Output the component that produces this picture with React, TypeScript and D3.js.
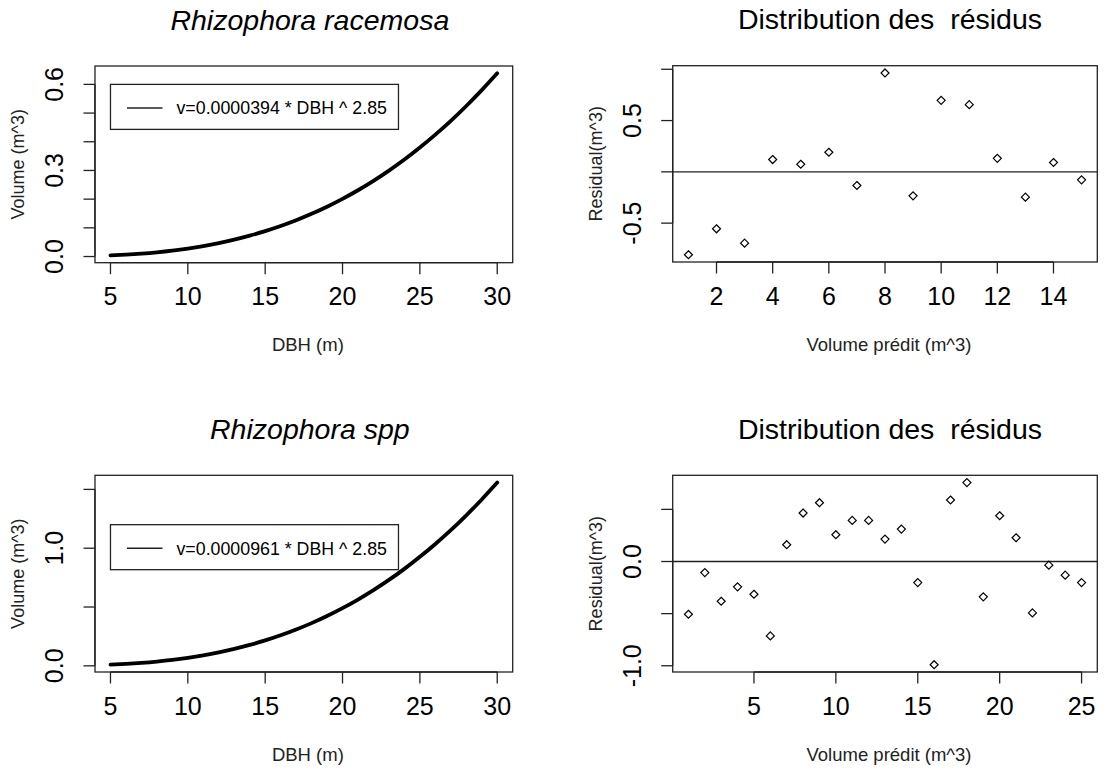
import React from "react";
import * as d3 from "d3";

// ---- data ----
const DBH = [5, 6, 7, 8, 9, 10, 11, 12, 13, 14, 15, 16, 17, 18, 19, 20, 21, 22, 23, 24, 25, 26, 27, 28, 29, 30];
const VOL_RACEMOSA = [
  0.00387, 0.00651, 0.0101, 0.0148, 0.0207, 0.0279, 0.0366, 0.0469, 0.0589, 0.0728, 0.0886, 0.1064, 0.1265,
  0.1489, 0.1737, 0.201, 0.231, 0.2638, 0.2994, 0.338, 0.3799, 0.4248, 0.473, 0.5247, 0.5799, 0.6387,
];
const VOL_SPP = [
  0.00944, 0.01587, 0.02464, 0.03603, 0.0504, 0.06804, 0.08931, 0.1144, 0.1437, 0.1775, 0.216, 0.2596, 0.3085,
  0.3631, 0.4236, 0.4903, 0.5634, 0.6434, 0.7302, 0.8244, 0.9267, 1.0362, 1.1537, 1.2799, 1.4145, 1.5579,
];
const RESID_RACEMOSA = [
  -0.808, -0.555, -0.695, 0.12, 0.074, 0.191, -0.133, 0.964, -0.234, 0.697, 0.655, 0.132, -0.247, 0.091, -0.078,
];
const RESID_SPP = [
  -0.506, -0.106, -0.381, -0.243, -0.314, -0.714, 0.161, 0.465, 0.564, 0.257, 0.394, 0.394, 0.215, 0.311, -0.202,
  -0.99, 0.59, 0.757, -0.339, 0.439, 0.228, -0.493, -0.035, -0.131, -0.202,
];
const TITLES = ["Rhizophora racemosa", "Distribution des  résidus", "Rhizophora spp", "Distribution des  résidus"];
const LEGENDS = ["v=0.0000394 * DBH ^ 2.85", "v=0.0000961 * DBH ^ 2.85"];
const LEGEND_ANCHOR_Y = [0.6, 1.2];
const LEGEND_ANCHOR_X = 5;
const X_TICKS_DBH = [5, 10, 15, 20, 25, 30];
const X_TICKS_RES1 = [2, 4, 6, 8, 10, 12, 14];
const X_TICKS_RES2 = [5, 10, 15, 20, 25];
const Y_TICKS_VOL1 = [0, 0.1, 0.2, 0.3, 0.4, 0.5, 0.6];
const Y_LABELS_VOL1 = ["0.0", "", "", "0.3", "", "", "0.6"];
const Y_TICKS_VOL2 = [0, 0.5, 1.0, 1.5];
const Y_LABELS_VOL2 = ["0.0", "", "1.0", ""];
const Y_TICKS_RES1 = [-0.5, 0, 0.5, 1.0];
const Y_LABELS_RES1 = ["-0.5", "", "0.5", ""];
const Y_TICKS_RES2 = [-1.0, -0.5, 0, 0.5];
const Y_LABELS_RES2 = ["-1.0", "", "0.0", ""];

const FONT = "'Liberation Sans', Arial, Helvetica, sans-serif";

type Box = { x0: number; x1: number; y0: number; y1: number };

function padDomain(vals: number[]): [number, number] {
  const [lo, hi] = d3.extent(vals) as [number, number];
  const p = (hi - lo) * 0.04;
  return [lo - p, hi + p];
}

function Frame(props: {
  box: Box;
  x: d3.ScaleLinear<number, number>;
  y: d3.ScaleLinear<number, number>;
  xTicks: number[];
  yTicks: number[];
  yLabels: string[];
  title: string;
  italic: boolean;
  xTitle: string;
  yTitle: string;
  children?: React.ReactNode;
}) {
  const { box, x, y, xTicks, yTicks, yLabels, title, italic, xTitle, yTitle } = props;
  const tl = 11.5;
  const cx = (box.x0 + box.x1) / 2 + 4;
  const cy = (box.y0 + box.y1) / 2;
  return (
    <g>
      {props.children}
      <rect x={box.x0} y={box.y0} width={box.x1 - box.x0} height={box.y1 - box.y0} fill="none" stroke="#222" strokeWidth={1.3} />
      {/* x axis */}
      <line x1={x(xTicks[0])} x2={x(xTicks[xTicks.length - 1])} y1={box.y1} y2={box.y1} stroke="#222" strokeWidth={1.3} />
      {xTicks.map((t) => (
        <g key={"xt" + t}>
          <line x1={x(t)} x2={x(t)} y1={box.y1} y2={box.y1 + tl} stroke="#222" strokeWidth={1.3} />
          <text x={x(t)} y={box.y1 + 42.5} textAnchor="middle" fontSize={25} fontFamily={FONT} fill="#000">
            {t}
          </text>
        </g>
      ))}
      {/* y axis */}
      <line x1={box.x0} x2={box.x0} y1={y(yTicks[0])} y2={y(yTicks[yTicks.length - 1])} stroke="#222" strokeWidth={1.3} />
      {yTicks.map((t, i) => (
        <g key={"yt" + i}>
          <line x1={box.x0 - tl} x2={box.x0} y1={y(t)} y2={y(t)} stroke="#222" strokeWidth={1.3} />
          {yLabels[i] ? (
            <text
              transform={`translate(${box.x0 - 32},${y(t)}) rotate(-90)`}
              textAnchor="middle"
              fontSize={25}
              fontFamily={FONT}
              fill="#000"
            >
              {yLabels[i]}
            </text>
          ) : null}
        </g>
      ))}
      <text
        x={cx + (italic ? 2 : 1)}
        y={box.y0 - 36.5}
        textAnchor="middle"
        fontSize={28.5}
        fontStyle={italic ? "italic" : "normal"}
        fontFamily={FONT}
        fill="#000"
        style={{ whiteSpace: "pre" }}
      >
        {title}
      </text>
      <text x={cx} y={box.y1 + 88.5} textAnchor="middle" fontSize={18.5} fontFamily={FONT} fill="#222">
        {xTitle}
      </text>
      <text
        transform={`translate(${box.x0 - 71},${cy}) rotate(-90)`}
        textAnchor="middle"
        fontSize={18}
        fontFamily={FONT}
        fill="#222"
      >
        {yTitle}
      </text>
    </g>
  );
}

function CurvePanel(props: { box: Box; vals: number[]; title: string; legend: string; legendY: number; yTicks: number[]; yLabels: string[] }) {
  const { box, vals } = props;
  const x = d3.scaleLinear().domain(padDomain(DBH)).range([box.x0, box.x1]);
  const y = d3.scaleLinear().domain(padDomain(vals)).range([box.y1, box.y0]);
  const line = d3
    .line<number>()
    .x((_, i) => x(DBH[i]))
    .y((d) => y(d))
    .curve(d3.curveMonotoneX);
  const lx = x(LEGEND_ANCHOR_X);
  const ly = y(props.legendY);
  const lw = 288;
  const lh = 45;
  return (
    <Frame
      box={box}
      x={x}
      y={y}
      xTicks={X_TICKS_DBH}
      yTicks={props.yTicks}
      yLabels={props.yLabels}
      title={props.title}
      italic={true}
      xTitle="DBH (m)"
      yTitle="Volume (m^3)"
    >
      <path d={line(vals) || ""} fill="none" stroke="#000" strokeWidth={3.8} strokeLinejoin="round" strokeLinecap="round" />
      <g>
        <rect x={lx} y={ly} width={lw} height={lh} fill="#fff" stroke="#222" strokeWidth={1.3} />
        <line x1={lx + 16.5} x2={lx + 52} y1={ly + lh / 2 + 1} y2={ly + lh / 2 + 1} stroke="#222" strokeWidth={1.5} />
        <text x={lx + 66} y={ly + lh / 2 + 7.5} fontSize={17.8} fontFamily={FONT} fill="#000">
          {props.legend}
        </text>
      </g>
    </Frame>
  );
}

function ResidPanel(props: { box: Box; vals: number[]; title: string; xTicks: number[]; yTicks: number[]; yLabels: string[] }) {
  const { box, vals } = props;
  const idx = vals.map((_, i) => i + 1);
  const x = d3.scaleLinear().domain(padDomain(idx)).range([box.x0, box.x1]);
  const y = d3.scaleLinear().domain(padDomain(vals)).range([box.y1, box.y0]);
  const r = 4;
  return (
    <Frame
      box={box}
      x={x}
      y={y}
      xTicks={props.xTicks}
      yTicks={props.yTicks}
      yLabels={props.yLabels}
      title={props.title}
      italic={false}
      xTitle="Volume prédit (m^3)"
      yTitle="Residual(m^3)"
    >
      <line x1={box.x0} x2={box.x1} y1={y(0)} y2={y(0)} stroke="#222" strokeWidth={1.3} />
      {vals.map((v, i) => {
        const px = x(idx[i]);
        const py = y(v);
        return (
          <path
            key={i}
            d={`M${px},${py - r}L${px + r},${py}L${px},${py + r}L${px - r},${py}Z`}
            fill="none"
            stroke="#000"
            strokeWidth={1.2}
          />
        );
      })}
    </Frame>
  );
}

export default function App() {
  const TL: Box = { x0: 95, x1: 512.7, y0: 66, y1: 262.7 };
  const TR: Box = { x0: 672.7, x1: 1097.3, y0: 65.7, y1: 262 };
  const BL: Box = { x0: 95, x1: 512.7, y0: 475.3, y1: 672 };
  const BR: Box = { x0: 672.7, x1: 1097.3, y0: 475.3, y1: 672 };
  return (
    <svg
      width={1112}
      height={769}
      viewBox="0 0 1112 769"
      style={{ position: "absolute", left: 0, top: 0, background: "#fff" }}
    >
      <rect x={0} y={0} width={1112} height={769} fill="#fff" />
      <CurvePanel box={TL} vals={VOL_RACEMOSA} title={TITLES[0]} legend={LEGENDS[0]} legendY={LEGEND_ANCHOR_Y[0]} yTicks={Y_TICKS_VOL1} yLabels={Y_LABELS_VOL1} />
      <ResidPanel box={TR} vals={RESID_RACEMOSA} title={TITLES[1]} xTicks={X_TICKS_RES1} yTicks={Y_TICKS_RES1} yLabels={Y_LABELS_RES1} />
      <CurvePanel box={BL} vals={VOL_SPP} title={TITLES[2]} legend={LEGENDS[1]} legendY={LEGEND_ANCHOR_Y[1]} yTicks={Y_TICKS_VOL2} yLabels={Y_LABELS_VOL2} />
      <ResidPanel box={BR} vals={RESID_SPP} title={TITLES[3]} xTicks={X_TICKS_RES2} yTicks={Y_TICKS_RES2} yLabels={Y_LABELS_RES2} />
    </svg>
  );
}
